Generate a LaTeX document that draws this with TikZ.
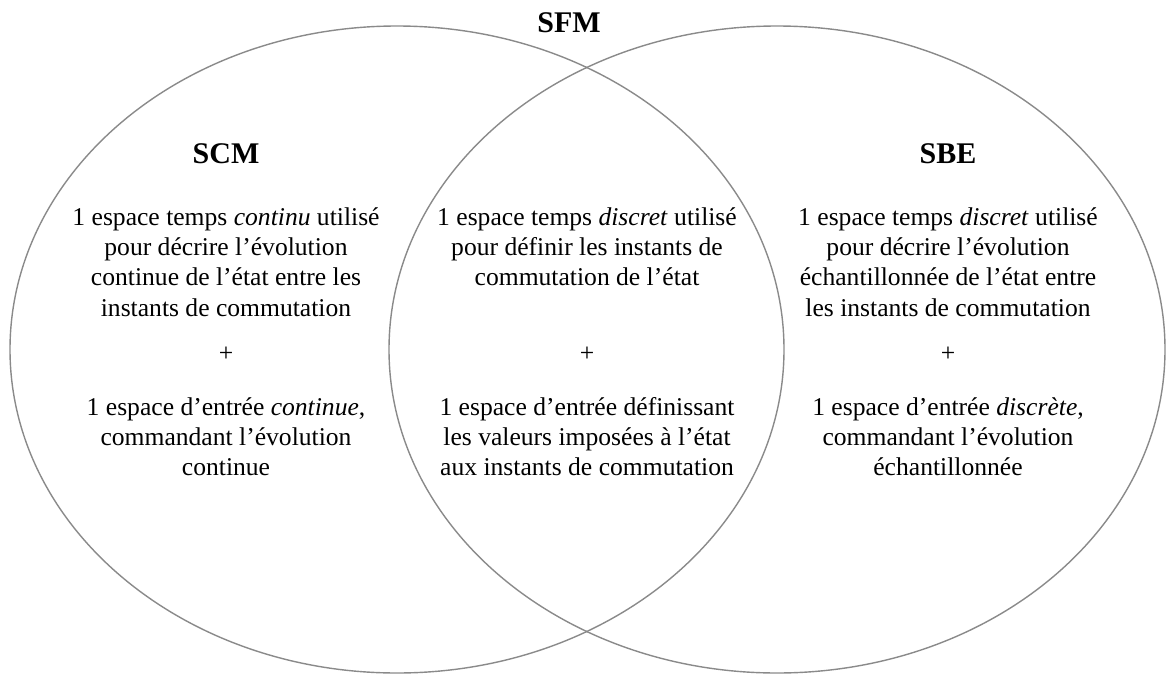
\documentclass[tikz,border=0pt]{standalone}
\usepackage{fontspec}
\setmainfont{Liberation Serif}
\definecolor{venngray}{RGB}{138,138,138}
\tikzset{
  setline/.style={draw=venngray, line width=1.4pt},
  title/.style={anchor=base, inner sep=0pt, font=\fontsize{30}{36}\selectfont\bfseries},
  body/.style={anchor=base, inner sep=0pt, font=\fontsize{25.6}{30.4}\selectfont},
}
\newcommand{\blk}[1]{\begin{tabular}[t]{@{}c@{}}#1\end{tabular}}
\begin{document}
\begin{tikzpicture}[x=1pt,y=-1pt]
\useasboundingbox (0,0) rectangle (1167,675);
% sets
\draw[setline] (397,349.5) ellipse [x radius=387pt, y radius=323.5pt];
\draw[setline] (777,349.5) ellipse [x radius=388pt, y radius=323.5pt];
% titles
\node[title] (sfm) at (569,32) {SFM};
\node[title] (scm) at (226,163) {SCM};
\node[title] (sbe) at (948,163) {SBE};
% left
\node[body] (l1) at (226,225) {\blk{1 espace temps \textit{continu} utilisé\\ pour décrire l’évolution\\ continue de l’état entre les\\ instants de commutation}};
\node[body] (lp) at (226,361) {+};
\node[body] (l2) at (226,415) {\blk{1 espace d’entrée \textit{continue},\\ commandant l’évolution\\ continue}};
% middle
\node[body] (m1) at (587,225) {\blk{1 espace temps \textit{discret} utilisé\\ pour définir les instants de\\ commutation de l’état}};
\node[body] (mp) at (587,361) {+};
\node[body] (m2) at (587,415) {\blk{1 espace d’entrée définissant\\ les valeurs imposées à l’état\\ aux instants de commutation}};
% right
\node[body] (r1) at (948,225) {\blk{1 espace temps \textit{discret} utilisé\\ pour décrire l’évolution\\ échantillonnée de l’état entre\\ les instants de commutation}};
\node[body] (rp) at (948,361) {+};
\node[body] (r2) at (948,415) {\blk{1 espace d’entrée \textit{discrète},\\ commandant l’évolution\\ échantillonnée}};
\end{tikzpicture}
\end{document}
